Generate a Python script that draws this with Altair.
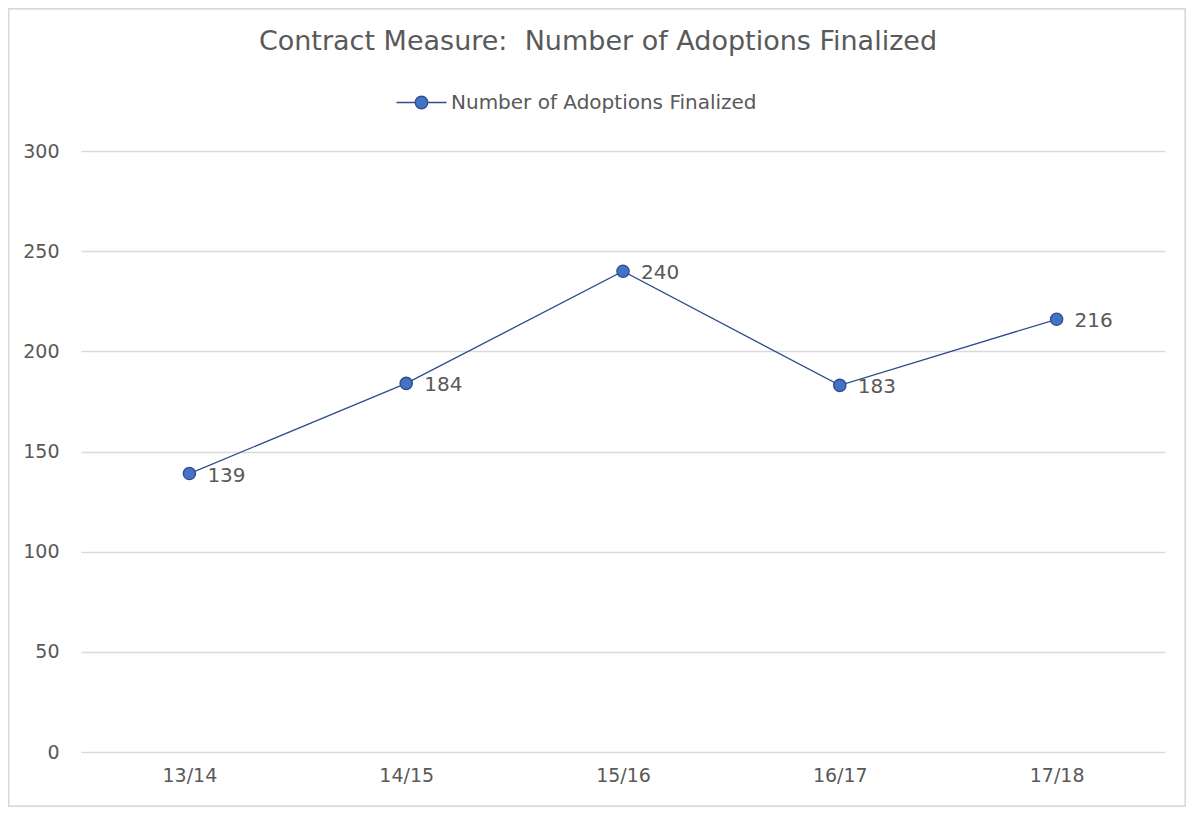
import altair as alt
import pandas as pd

years = ["13/14", "14/15", "15/16", "16/17", "17/18"]
values = [139, 184, 240, 183, 216]
series = ["Number of Adoptions Finalized"] * len(years)

df = pd.DataFrame({"year": years, "value": values, "series": series})

FONT = "DejaVu Sans"
TXT = "#595959"
LINE = "#2E4D8C"
FILL = "#4472C4"
W, H = 1084, 601
PL, PT, PR, PB = 73, 143, 21, 55

x = alt.X("year:N", sort=years, title=None,
          scale=alt.Scale(type="point", padding=0.5),
          axis=alt.Axis(labelAngle=0, labelFont=FONT, labelFontSize=19, labelColor=TXT,
                        ticks=False, domain=False, grid=False, labelPadding=14))
y = alt.Y("value:Q", title=None,
          scale=alt.Scale(domain=[0, 300]),
          axis=alt.Axis(values=[0, 50, 100, 150, 200, 250, 300], labelFont=FONT,
                        labelFontSize=19, labelColor=TXT, ticks=False, domain=False,
                        grid=True, gridColor="#D9D9D9", gridWidth=1.3, labelPadding=22))

base = alt.Chart(df)

frame = base.mark_rect(fill=None, stroke="#D9D9D9", strokeWidth=1.3).encode(
    x=alt.value(-PL + 0.5), x2=alt.value(W + PR - 0.5),
    y=alt.value(-PT + 0.5), y2=alt.value(H + PB - 0.5))

line = base.mark_line(color=LINE, strokeWidth=1.3).encode(x=x, y=y)

legend_path = ("M -2 0 L -0.5 0 M 0.5 0 L 2 0 "
               "M -0.5 0 A 0.5 0.5 0 1 1 0.5 0 A 0.5 0.5 0 1 1 -0.5 0 Z")

points = base.mark_point(filled=True, size=150, opacity=1, stroke=LINE, strokeWidth=1.3).encode(
    x=x, y=y,
    color=alt.Color("series:N", scale=alt.Scale(range=[FILL]),
                    legend=alt.Legend(title=None, orient="none", legendX=327, legendY=-62,
                                      symbolType=legend_path, symbolSize=625,
                                      symbolStrokeColor=LINE, symbolStrokeWidth=1.3,
                                      labelFont=FONT, labelFontSize=20, labelColor=TXT,
                                      labelOffset=16, labelLimit=500)))

labels = base.mark_text(align="left", baseline="middle", dx=18, dy=2,
                        font=FONT, fontSize=20, color=TXT).encode(
    x=x, y=y, text="value:Q")

chart = alt.layer(frame, line, points, labels).properties(
    width=W, height=H,
    background="white",
    autosize=alt.AutoSizeParams(type="none"),
    padding={"left": PL, "top": PT, "right": PR, "bottom": PB},
    title=alt.TitleParams("Contract Measure:\u00a0 Number of Adoptions Finalized",
                          font=FONT, fontSize=27, fontWeight="normal", color=TXT,
                          anchor="middle", dx=-25, offset=-48),
).configure_view(strokeWidth=0)

chart.save("out.html", embed_options={"renderer": "svg", "actions": False})
